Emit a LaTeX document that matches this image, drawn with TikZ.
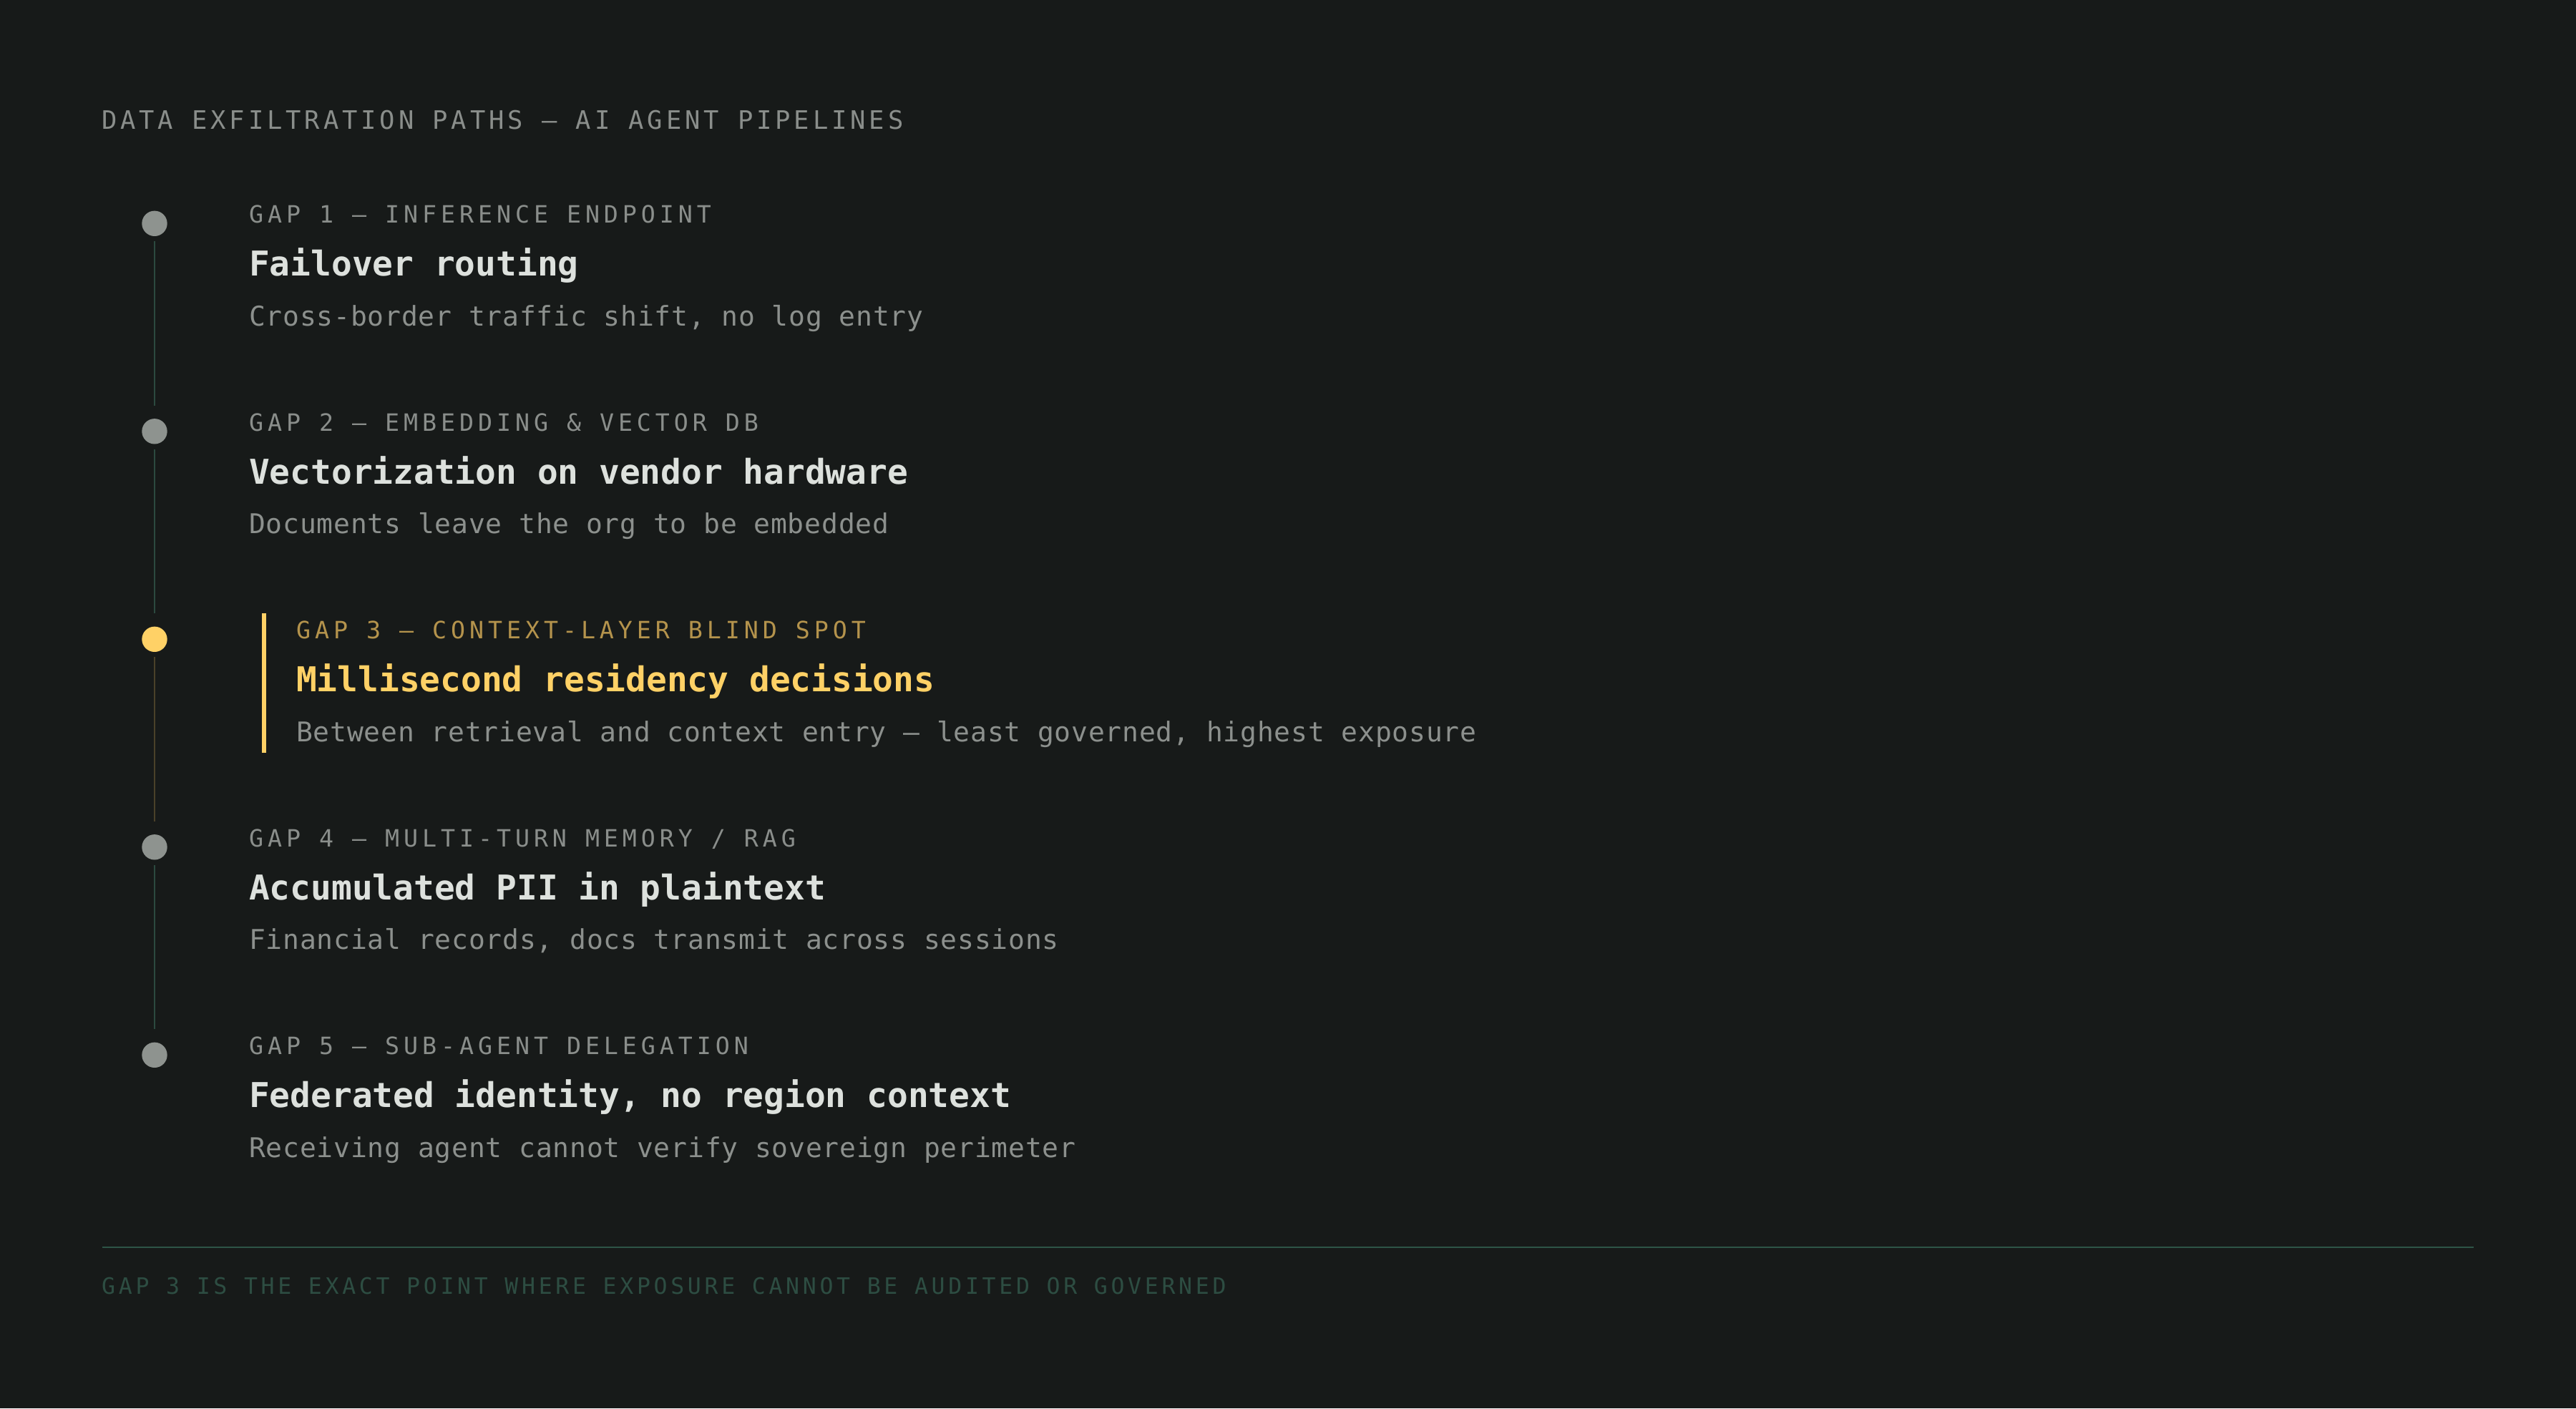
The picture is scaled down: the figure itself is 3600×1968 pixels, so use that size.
\documentclass[tikz,border=0pt]{standalone}
\usepackage{fontspec}
\newfontfamily\headfont[LetterSpace=13.7]{DejaVu Sans Mono}
\newfontfamily\gapfont[LetterSpace=17.8]{DejaVu Sans Mono}
\newfontfamily\titlefont{DejaVu Sans Mono}
\newfontfamily\descfont[LetterSpace=2.1]{DejaVu Sans Mono}
\newfontfamily\footfont[LetterSpace=14.9]{DejaVu Sans Mono}
\usetikzlibrary{positioning}

\definecolor{bgdark}{HTML}{171A19}
\definecolor{dotgray}{HTML}{8E938F}
\definecolor{labelgray}{HTML}{8A8E8B}
\definecolor{titlewhite}{HTML}{DDE1DD}
\definecolor{descgray}{HTML}{8C908D}
\definecolor{amber}{HTML}{FFD166}
\definecolor{amberdim}{HTML}{B4934C}
\definecolor{railgreen}{HTML}{2C4A3F}
\definecolor{railamber}{HTML}{4A4129}
\definecolor{rulegreen}{HTML}{2E5547}
\definecolor{footgreen}{HTML}{2D4D42}

\tikzset{
  gapdot/.style={circle,fill=dotgray,draw=none,inner sep=0pt,minimum size=35.4pt},
  gaplabel/.style={anchor=base west,inner sep=0pt,text=labelgray,font=\gapfont\fontsize{33.3}{40}\selectfont},
  gaptitle/.style={anchor=base west,inner sep=0pt,text=titlewhite,font=\titlefont\bfseries\fontsize{47.8}{56}\selectfont},
  gapdesc/.style={anchor=base west,inner sep=0pt,text=descgray,font=\descfont\fontsize{38}{46}\selectfont},
  rail/.style={draw=railgreen,line width=1.5pt,shorten <=7pt},
}

\begin{document}
\begin{tikzpicture}[x=1pt,y=-1pt,line join=bevel,]

  \fill [bgdark] (0,0) rectangle (3600,1968);
  \useasboundingbox (0,0) rectangle (3600,1968);

  \node (head) at (142,180.4) [anchor=base west,inner sep=0pt,text=labelgray,font=\headfont\fontsize{35.5}{42}\selectfont] {DATA EXFILTRATION PATHS — AI AGENT PIPELINES};

  \node (gap_1_dot) at (216,312.3) [gapdot] {};
  \node (gap_1_label) at (348,311.8) [gaplabel] {GAP 1 — INFERENCE ENDPOINT};
  \node (gap_1_title) at (348,385.7) [gaptitle] {Failover routing};
  \node (gap_1_desc) at (348,455.0) [gapdesc] {Cross-border traffic shift, no log entry};

  \node (gap_2_dot) at (216,602.8) [gapdot] {};
  \node (gap_2_label) at (348,602.3) [gaplabel] {GAP 2 — EMBEDDING \& VECTOR DB};
  \node (gap_2_title) at (348,676.2) [gaptitle] {Vectorization on vendor hardware};
  \node (gap_2_desc) at (348,745.5) [gapdesc] {Documents leave the org to be embedded};

  \node (gap_3_dot) at (216,893.3) [gapdot,fill=amber] {};
  \node (gap_3_label) at (414,892.8) [gaplabel,text=amberdim] {GAP 3 — CONTEXT-LAYER BLIND SPOT};
  \node (gap_3_title) at (414,966.7) [gaptitle,text=amber] {Millisecond residency decisions};
  \node (gap_3_desc) at (414,1036.0) [gapdesc] {Between retrieval and context entry — least governed, highest exposure};

  \node (gap_4_dot) at (216,1183.8) [gapdot] {};
  \node (gap_4_label) at (348,1183.3) [gaplabel] {GAP 4 — MULTI-TURN MEMORY / RAG};
  \node (gap_4_title) at (348,1257.2) [gaptitle] {Accumulated PII in plaintext};
  \node (gap_4_desc) at (348,1326.5) [gapdesc] {Financial records, docs transmit across sessions};

  \node (gap_5_dot) at (216,1474.3) [gapdot] {};
  \node (gap_5_label) at (348,1473.8) [gaplabel] {GAP 5 — SUB-AGENT DELEGATION};
  \node (gap_5_title) at (348,1547.7) [gaptitle] {Federated identity, no region context};
  \node (gap_5_desc) at (348,1617.0) [gapdesc] {Receiving agent cannot verify sovereign perimeter};

  \coordinate (rail_1_end) at (216,566.8);
  \coordinate (rail_2_end) at (216,857.3);
  \coordinate (rail_3_end) at (216,1147.8);
  \coordinate (rail_4_end) at (216,1438.3);
  \coordinate (bar_top) at (369,857.3);
  \coordinate (bar_bottom) at (369,1052.0);
  \coordinate (rule_left) at (143,1743);
  \coordinate (rule_right) at (3457,1743);

  \draw [rail] (gap_1_dot.south) -- (rail_1_end);
  \draw [rail] (gap_2_dot.south) -- (rail_2_end);
  \draw [rail,draw=railamber] (gap_3_dot.south) -- (rail_3_end);
  \draw [rail] (gap_4_dot.south) -- (rail_4_end);
  \draw [amber,line width=6pt] (bar_top) -- (bar_bottom);
  \draw [rulegreen,line width=2.2pt] (rule_left) -- (rule_right);

  \node (foot) at (142,1808.3) [anchor=base west,inner sep=0pt,text=footgreen,font=\footfont\fontsize{31.5}{36}\selectfont] {GAP 3 IS THE EXACT POINT WHERE EXPOSURE CANNOT BE AUDITED OR GOVERNED};
%
\end{tikzpicture}
\end{document}
